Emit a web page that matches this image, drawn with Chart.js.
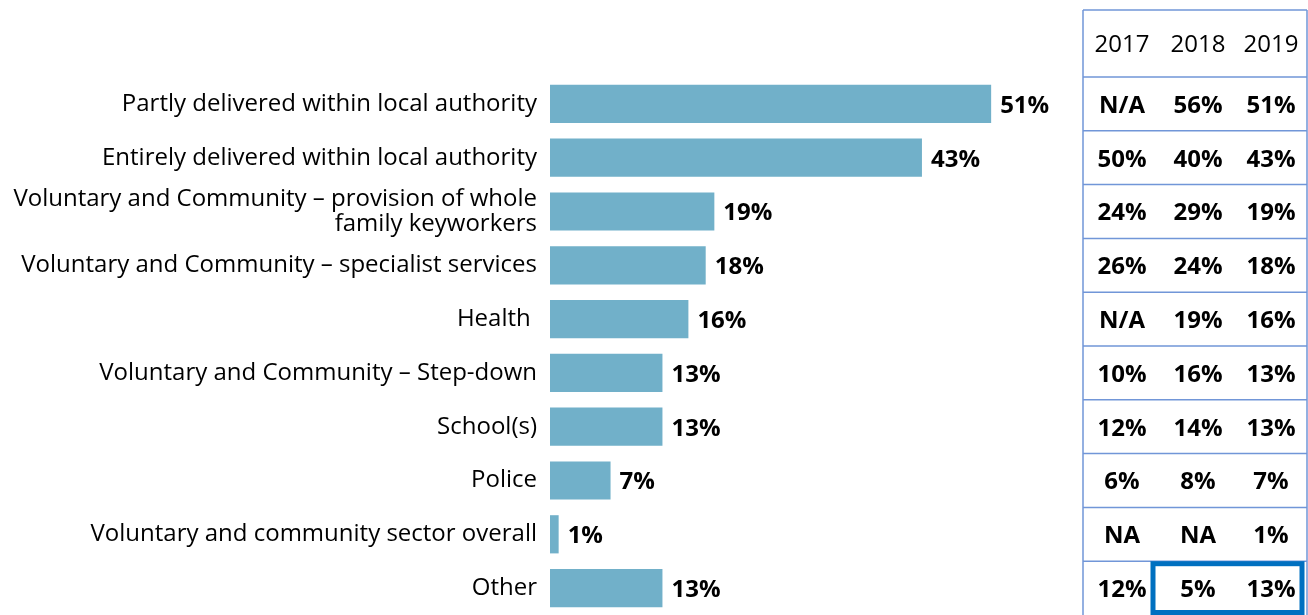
<!DOCTYPE html>
<html lang="en">
<head>
  <meta charset="UTF-8" />
  <title>Delivery of whole family keyworkers</title>
  <script src="https://cdn.jsdelivr.net/npm/chart.js"></script>
  <style>
    html, body { margin: 0; padding: 0; background: #fff; }
    #wrap { width: 1308px; height: 615px; position: relative; }
  </style>
</head>
<body>
  <div id="wrap"><canvas id="chart"></canvas></div>

  <script>
    // categories (bar labels)
    const categories = [
      "Partly delivered within local authority",
      "Entirely delivered within local authority",
      ["Voluntary and Community \u2013 provision of whole", "family keyworkers"],
      "Voluntary and Community \u2013 specialist services",
      "Health ",
      "Voluntary and Community \u2013 Step-down",
      "School(s)",
      "Police",
      "Voluntary and community sector overall",
      "Other"
    ];

    // 2019 values, drawn as bars
    const values = [51, 43, 19, 18, 16, 13, 13, 7, 1, 13];

    // comparison table on the right
    const years = ["2017", "2018", "2019"];
    const col2017 = ["N/A", "50%", "24%", "26%", "N/A", "10%", "12%", "6%", "NA", "12%"];
    const col2018 = ["56%", "40%", "29%", "24%", "19%", "16%", "14%", "8%", "NA", "5%"];
    const col2019 = ["51%", "43%", "19%", "18%", "16%", "13%", "13%", "7%", "1%", "13%"];

    const FONT = "'Open Sans', 'Noto Sans', sans-serif";

    // value labels at the end of each bar
    const barLabels = {
      id: 'barLabels',
      afterDatasetsDraw(chart) {
        const ctx = chart.ctx;
        const meta = chart.getDatasetMeta(0);
        ctx.save();
        ctx.font = "bold 24px " + FONT;
        ctx.fillStyle = "#000";
        ctx.textAlign = "left";
        ctx.textBaseline = "middle";
        meta.data.forEach((bar, i) => {
          ctx.fillText(values[i] + "%", bar.x + 9, bar.y + 2);
        });
        ctx.restore();
      }
    };

    // table of yearly values, rows follow the category scale
    const yearTable = {
      id: 'yearTable',
      afterDraw(chart) {
        const ctx = chart.ctx;
        const y = chart.scales.y;
        const left = 1083, right = 1307, top = 10;
        const colX = [1122, 1198, 1271];
        const half = (y.getPixelForValue(1) - y.getPixelForValue(0)) / 2;
        const bottom = y.getPixelForValue(categories.length - 1) + half;

        ctx.save();
        ctx.strokeStyle = "#7196d8";
        ctx.lineWidth = 1.5;
        ctx.beginPath();
        ctx.moveTo(left, top); ctx.lineTo(left, bottom);
        ctx.moveTo(right, top); ctx.lineTo(right, bottom);
        ctx.moveTo(left, top); ctx.lineTo(right, top);
        for (let i = 0; i < categories.length; i++) {
          const yb = y.getPixelForValue(i) - half;
          ctx.moveTo(left, yb); ctx.lineTo(right, yb);
        }
        ctx.stroke();

        ctx.fillStyle = "#000";
        ctx.textAlign = "center";
        ctx.textBaseline = "middle";
        ctx.font = "24px " + FONT;
        years.forEach((yr, j) => ctx.fillText(yr, colX[j], (top + y.getPixelForValue(0) - half) / 2 + 2));

        ctx.font = "bold 24px " + FONT;
        const cols = [col2017, col2018, col2019];
        for (let i = 0; i < categories.length; i++) {
          const yc = y.getPixelForValue(i) + 2;
          cols.forEach((c, j) => ctx.fillText(c[i], colX[j], yc));
        }

        // highlight box round the last row's 2018 and 2019 cells
        const last = y.getPixelForValue(categories.length - 1);
        ctx.strokeStyle = "#0070C0";
        ctx.lineWidth = 5;
        ctx.strokeRect(1153, last - half + 2.5, 1302 - 1153, 2 * half - 5);
        ctx.restore();
      }
    };

    const chart = new Chart(document.getElementById('chart'), {
      type: 'bar',
      data: {
        labels: categories,
        datasets: [{
          label: '2019',
          data: values,
          backgroundColor: '#71b0c9',
          borderWidth: 0,
          categoryPercentage: 1,
          barPercentage: 0.71
        }]
      },
      options: {
        indexAxis: 'y',
        responsive: true,
        maintainAspectRatio: false,
        animation: false,
        layout: { padding: { top: 77, right: 239, bottom: 0, left: 0 } },
        plugins: {
          legend: { display: false },
          tooltip: { enabled: false }
        },
        scales: {
          x: {
            display: false,
            min: 0,
            max: 60
          },
          y: {
            grid: { display: false },
            border: { display: false },
            afterFit(scale) {
              scale.width = 550;
              scale.paddingTop = 0;
              scale.paddingBottom = 0;
            },
            ticks: {
              color: '#000',
              padding: 5,
              font: { family: FONT, size: 24, lineHeight: 1.05 }
            }
          }
        }
      },
      plugins: [barLabels, yearTable]
    });
  </script>
</body>
</html>
